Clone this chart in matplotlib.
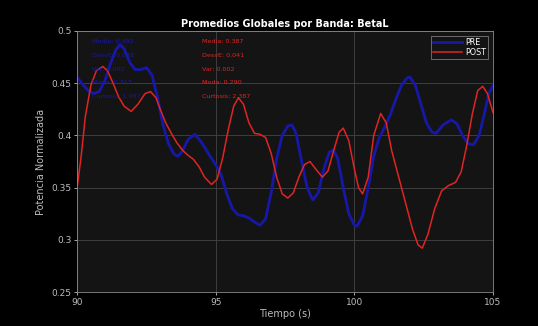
import matplotlib
matplotlib.use("Agg")
from matplotlib import pyplot as plt

# values
t_pre = [90.0, 90.2, 90.4, 90.6, 90.8, 91.0, 91.2, 91.4, 91.55, 91.7, 91.9, 92.1, 92.3, 92.5,
         92.7, 92.9, 93.1, 93.3, 93.5, 93.65, 93.8, 94.0, 94.25, 94.5, 94.8, 95.0, 95.2, 95.4,
         95.6, 95.8, 96.0, 96.2, 96.4, 96.6, 96.8, 97.0, 97.2, 97.4, 97.6, 97.75, 97.9, 98.1,
         98.3, 98.5, 98.7, 98.9, 99.1, 99.25, 99.4, 99.6, 99.8, 100.0, 100.1, 100.3, 100.5,
         100.7, 100.9, 101.1, 101.3, 101.5, 101.7, 101.9, 102.0, 102.2, 102.4, 102.6, 102.8,
         102.95, 103.2, 103.5, 103.7, 103.9, 104.1, 104.3, 104.5, 104.7, 104.85, 105.0]
pre = [0.456, 0.449, 0.443, 0.440, 0.442, 0.452, 0.468, 0.482, 0.487, 0.483, 0.470, 0.463, 0.463,
       0.465, 0.458, 0.437, 0.410, 0.392, 0.382, 0.380, 0.385, 0.396, 0.401, 0.393, 0.380, 0.372,
       0.362, 0.344, 0.330, 0.324, 0.323, 0.321, 0.317, 0.314, 0.320, 0.345, 0.378, 0.400, 0.409,
       0.410, 0.402, 0.375, 0.350, 0.338, 0.345, 0.368, 0.384, 0.386, 0.378, 0.350, 0.325, 0.314,
       0.313, 0.323, 0.350, 0.380, 0.398, 0.408, 0.420, 0.435, 0.448, 0.455, 0.456, 0.448, 0.430,
       0.412, 0.403, 0.402, 0.410, 0.415, 0.411, 0.400, 0.392, 0.391, 0.400, 0.422, 0.440, 0.448]

t_post = [90.0, 90.15, 90.3, 90.5, 90.7, 90.93, 91.1, 91.3, 91.5, 91.7, 91.95, 92.2, 92.45, 92.65,
          92.85, 93.0, 93.2, 93.4, 93.6, 93.8, 94.0, 94.2, 94.4, 94.6, 94.85, 95.05, 95.25, 95.45,
          95.65, 95.82, 96.0, 96.2, 96.4, 96.6, 96.8, 97.0, 97.2, 97.4, 97.6, 97.8, 98.0, 98.2,
          98.4, 98.6, 98.85, 99.05, 99.25, 99.45, 99.6, 99.8, 100.0, 100.15, 100.3, 100.5, 100.7,
          100.95, 101.15, 101.35, 101.6, 101.85, 102.1, 102.3, 102.45, 102.65, 102.9, 103.15,
          103.4, 103.65, 103.85, 104.05, 104.25, 104.45, 104.63, 104.8, 105.0]
post = [0.349, 0.380, 0.418, 0.448, 0.462, 0.466, 0.462, 0.450, 0.437, 0.428, 0.423, 0.430, 0.440,
        0.442, 0.436, 0.425, 0.412, 0.402, 0.393, 0.386, 0.381, 0.377, 0.370, 0.360, 0.353, 0.358,
        0.378, 0.405, 0.428, 0.436, 0.430, 0.412, 0.402, 0.401, 0.398, 0.383, 0.360, 0.344, 0.340,
        0.345, 0.360, 0.372, 0.375, 0.368, 0.360, 0.366, 0.385, 0.403, 0.407, 0.395, 0.368, 0.350,
        0.344, 0.360, 0.400, 0.421, 0.412, 0.385, 0.360, 0.335, 0.310, 0.295, 0.292, 0.305, 0.330,
        0.347, 0.352, 0.355, 0.365, 0.390, 0.420, 0.443, 0.447, 0.440, 0.422]

stats_names = ["Media", "DesvE", "Var", "Moda", "Curtosis"]
stats_pre = ["0.392", "0.048", "0.002", "0.313", "1.987"]
stats_post = ["0.387", "0.041", "0.002", "0.290", "2.387"]

x_ticks = [90, 95, 100, 105]
y_ticks = [0.25, 0.3, 0.35, 0.4, 0.45, 0.5]

BLUE = "#1818a8"
RED = "#e02424"
GREY = "#bdbdbd"

fig = plt.figure(figsize=(5.38, 3.26), dpi=100, facecolor="black")
ax = fig.add_axes([77 / 538, 1 - 292 / 326, 416 / 538, 261 / 326])
ax.set_facecolor("#141414")

ax.plot(t_pre, pre, color=BLUE, lw=2.0, label="PRE")
ax.plot(t_post, post, color=RED, lw=1.1, label="POST")

ax.set_xlim(90, 105)
ax.set_ylim(0.25, 0.5)
ax.set_xticks(x_ticks)
ax.set_yticks(y_ticks)
ax.set_xticklabels([str(v) for v in x_ticks])
ax.set_yticklabels([f"{v:g}" for v in y_ticks])
ax.grid(True, color="#444444", lw=0.6)
ax.tick_params(colors=GREY, labelsize=6.5, length=2, width=0.6, pad=2)
for s in ax.spines.values():
    s.set_color("#8a8a8a")
    s.set_linewidth(0.6)

ax.set_title("Promedios Globales por Banda: BetaL", color="white", fontsize=7,
             fontweight="bold", pad=3)
ax.set_xlabel("Tiempo (s)", color=GREY, fontsize=7, labelpad=2)
ax.set_ylabel("Potencia Normalizada", color=GREY, fontsize=7, labelpad=4)

for i, name in enumerate(stats_names):
    yy = 0.959 - i * 0.0525
    ax.text(0.035, yy, f"{name}: {stats_pre[i]}", transform=ax.transAxes, color=BLUE,
            fontsize=4.6, va="center")
    ax.text(0.30, yy, f"{name}: {stats_post[i]}", transform=ax.transAxes, color=RED,
            fontsize=4.6, va="center")

leg = ax.legend(loc="upper right", fontsize=5.8, facecolor="#141414", edgecolor="#777777",
                labelcolor="white", handlelength=3.6, borderpad=0.3, labelspacing=0.05,
                handletextpad=0.3, fancybox=False, framealpha=1, borderaxespad=0.6)
leg.get_frame().set_linewidth(0.6)

fig.savefig("out.png", dpi=100, facecolor="black")
